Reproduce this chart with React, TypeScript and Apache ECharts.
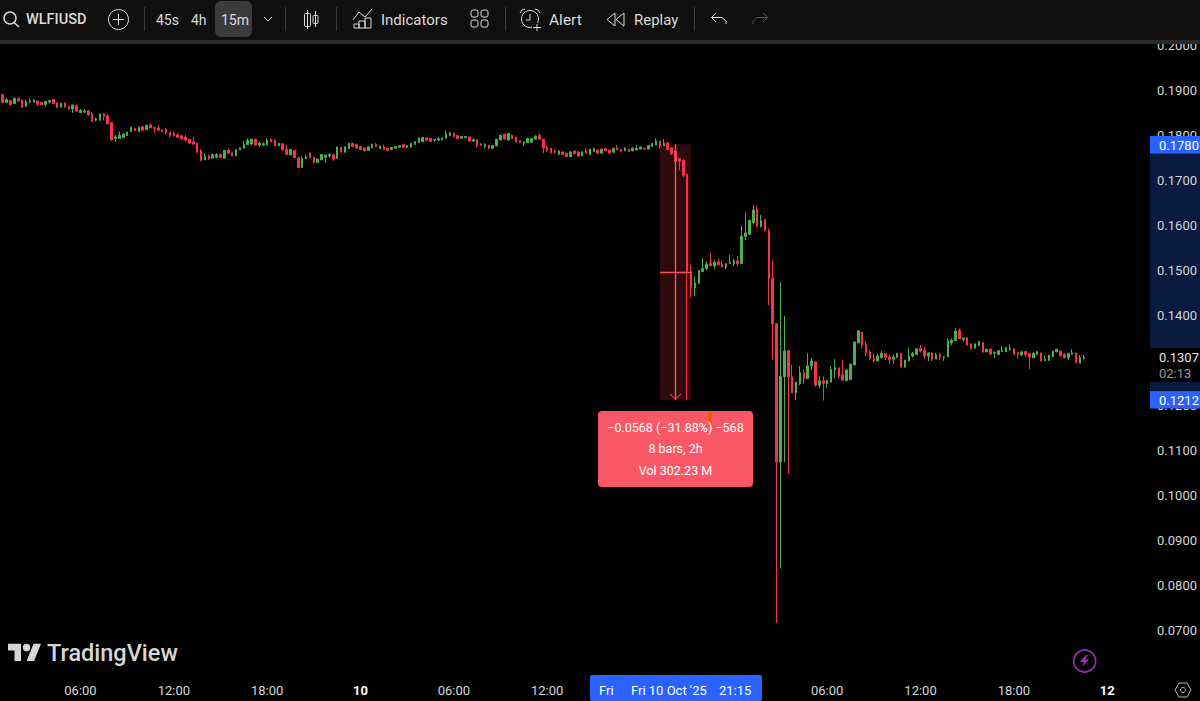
import React, { useEffect, useRef } from "react";
import * as echarts from "echarts";

// Prices are stored in ticks of 0.0001 (15-minute bars from Oct 9, 01:00)
const opens = [
  1890,1873,1877,1870,1882,1878,1864,1873,1873,1876,
  1873,1868,1874,1879,1872,1862,1872,1864,1858,1865,
  1850,1851,1854,1847,1833,1833,1847,1843,1828,1793,
  1793,1795,1799,1808,1815,1808,1819,1812,1823,1817,
  1816,1812,1813,1806,1804,1801,1799,1796,1791,1785,
  1782,1765,1745,1754,1749,1751,1757,1749,1767,1761,
  1754,1767,1771,1779,1780,1791,1778,1778,1778,1791,
  1788,1776,1781,1769,1756,1766,1750,1728,1747,1761,
  1751,1739,1745,1751,1754,1756,1748,1773,1762,1770,
  1782,1779,1775,1771,1766,1772,1780,1770,1774,1771,
  1768,1771,1773,1779,1773,1773,1779,1783,1785,1794,
  1793,1789,1789,1789,1793,1799,1805,1799,1793,1794,
  1796,1787,1790,1781,1775,1778,1771,1776,1789,1802,
  1789,1800,1796,1788,1782,1783,1784,1791,1799,1791,
  1772,1771,1765,1757,1763,1760,1752,1765,1763,1754,
  1765,1757,1764,1767,1760,1770,1767,1762,1771,1768,
  1765,1769,1765,1767,1769,1771,1769,1775,1778,1787,
  1777,1783,1772,1765,1748,1745,1713,1498,1461,1471,
  1497,1504,1515,1510,1519,1514,1507,1515,1515,1521,
  1515,1575,1580,1606,1634,1597,1613,1589,1482,1382,
  1075,1264,1322,1264,1228,1248,1273,1260,1288,1297,
  1245,1255,1248,1252,1279,1284,1268,1255,1258,1290,
  1339,1363,1336,1319,1305,1299,1307,1316,1308,1303,
  1306,1316,1285,1299,1310,1313,1327,1323,1310,1317,
  1303,1313,1306,1308,1339,1344,1367,1347,1351,1337,
  1327,1333,1340,1319,1325,1316,1313,1320,1319,1324,
  1327,1318,1312,1320,1316,1306,1313,1317,1300,1300,
  1308,1319,1321,1314,1306,1314,1317,1294,1305,
];
const closes = [
  1872,1879,1868,1882,1876,1862,1874,1876,1877,1869,
  1867,1875,1877,1870,1862,1871,1862,1858,1867,1853,
  1855,1853,1845,1830,1836,1847,1841,1825,1790,1796,
  1800,1802,1807,1817,1810,1818,1811,1822,1816,1815,
  1811,1808,1805,1799,1799,1795,1792,1789,1782,1780,
  1762,1743,1753,1747,1757,1757,1750,1766,1760,1754,
  1768,1772,1779,1788,1791,1778,1782,1781,1789,1785,
  1776,1782,1768,1757,1768,1750,1728,1748,1752,1750,
  1739,1747,1757,1756,1757,1747,1774,1762,1774,1782,
  1775,1771,1768,1765,1774,1780,1774,1776,1768,1766,
  1773,1775,1777,1773,1777,1782,1786,1794,1795,1789,
  1786,1791,1792,1794,1802,1805,1796,1792,1797,1797,
  1787,1790,1776,1777,1779,1771,1777,1791,1800,1791,
  1804,1792,1785,1783,1785,1793,1793,1797,1791,1771,
  1766,1761,1762,1765,1757,1752,1763,1759,1753,1763,
  1760,1769,1770,1760,1769,1765,1760,1771,1767,1764,
  1771,1763,1771,1771,1774,1769,1777,1782,1787,1776,
  1782,1768,1759,1742,1742,1711,1498,1461,1472,1500,
  1504,1514,1510,1518,1513,1507,1515,1518,1521,1515,
  1576,1583,1611,1634,1598,1611,1588,1481,1381,1075,
  1265,1321,1264,1228,1252,1273,1260,1288,1299,1245,
  1255,1249,1256,1280,1284,1265,1256,1279,1292,1341,
  1366,1334,1317,1305,1299,1310,1316,1307,1302,1308,
  1316,1285,1301,1310,1316,1326,1321,1310,1317,1302,
  1313,1307,1308,1344,1345,1365,1348,1350,1334,1327,
  1337,1342,1319,1325,1314,1318,1322,1323,1329,1327,
  1314,1313,1319,1313,1308,1316,1320,1299,1303,1312,
  1321,1325,1310,1306,1316,1317,1295,1306,1307,
];
const lows = [
  1872,1871,1865,1870,1874,1861,1864,1871,1873,1865,
  1867,1864,1870,1870,1860,1862,1861,1856,1849,1851,
  1850,1851,1842,1830,1830,1833,1833,1825,1787,1785,
  1793,1795,1799,1808,1810,1808,1811,1812,1816,1805,
  1811,1808,1802,1795,1797,1793,1790,1786,1781,1780,
  1760,1743,1745,1745,1749,1749,1750,1749,1758,1754,
  1754,1767,1771,1779,1780,1778,1774,1776,1778,1785,
  1776,1776,1765,1757,1756,1750,1728,1728,1747,1750,
  1737,1739,1745,1739,1751,1743,1748,1762,1762,1770,
  1775,1771,1768,1764,1766,1772,1774,1770,1768,1764,
  1768,1771,1773,1773,1770,1773,1779,1783,1785,1786,
  1786,1785,1787,1789,1793,1799,1796,1791,1793,1794,
  1785,1785,1772,1777,1771,1769,1768,1776,1789,1791,
  1789,1792,1785,1783,1776,1783,1784,1791,1791,1760,
  1763,1759,1759,1757,1757,1752,1752,1757,1753,1754,
  1760,1757,1762,1760,1760,1765,1760,1762,1767,1762,
  1765,1763,1765,1767,1769,1769,1769,1775,1778,1771,
  1777,1768,1756,1742,1722,1707,1212,1441,1442,1471,
  1497,1500,1510,1503,1510,1507,1503,1515,1510,1510,
  1515,1567,1580,1602,1596,1595,1586,1423,1301,717,
  838,1075,1049,1228,1212,1245,1248,1260,1279,1242,
  1239,1211,1239,1252,1260,1260,1256,1255,1258,1290,
  1339,1327,1310,1302,1296,1299,1303,1301,1292,1292,
  1306,1285,1285,1299,1307,1313,1318,1303,1299,1299,
  1303,1301,1299,1308,1334,1344,1348,1342,1334,1323,
  1327,1333,1317,1319,1311,1305,1313,1319,1319,1322,
  1312,1304,1310,1308,1281,1306,1313,1298,1299,1300,
  1308,1319,1310,1305,1301,1313,1295,1294,1302,
];
const highs = [
  1890,1883,1877,1882,1882,1878,1879,1882,1880,1876,
  1873,1875,1877,1879,1872,1871,1872,1864,1867,1868,
  1858,1858,1856,1852,1839,1847,1849,1847,1828,1800,
  1808,1805,1807,1819,1815,1818,1819,1822,1826,1817,
  1822,1812,1816,1806,1808,1804,1799,1801,1791,1796,
  1782,1769,1760,1757,1759,1760,1759,1766,1771,1761,
  1768,1772,1787,1793,1791,1791,1785,1784,1793,1793,
  1791,1782,1781,1779,1768,1766,1750,1753,1757,1761,
  1751,1747,1757,1756,1760,1759,1774,1773,1774,1782,
  1782,1782,1775,1771,1774,1780,1782,1776,1779,1771,
  1773,1775,1777,1782,1777,1782,1786,1794,1795,1794,
  1793,1791,1796,1794,1810,1808,1805,1799,1797,1797,
  1796,1793,1790,1781,1782,1778,1777,1791,1800,1802,
  1804,1800,1796,1788,1785,1793,1793,1800,1804,1791,
  1777,1771,1769,1765,1763,1760,1763,1765,1763,1763,
  1771,1769,1772,1767,1769,1772,1767,1771,1778,1768,
  1773,1769,1773,1778,1774,1771,1777,1782,1793,1787,
  1791,1783,1772,1766,1748,1746,1713,1513,1486,1500,
  1528,1520,1540,1524,1526,1520,1515,1534,1526,1532,
  1599,1628,1611,1645,1643,1623,1613,1593,1523,1382,
  1474,1399,1322,1290,1252,1288,1280,1316,1305,1297,
  1265,1265,1256,1288,1303,1284,1301,1279,1292,1341,
  1366,1363,1342,1323,1316,1316,1321,1316,1313,1314,
  1316,1316,1301,1329,1319,1326,1334,1330,1317,1317,
  1317,1317,1310,1349,1349,1371,1371,1350,1351,1337,
  1337,1344,1340,1325,1327,1320,1322,1332,1329,1336,
  1327,1318,1322,1322,1316,1319,1320,1317,1311,1312,
  1321,1325,1321,1316,1316,1325,1317,1312,1313,
];

const TICK = 0.0001;
const TOTAL_BARS = 295; // includes the empty slots to the right of the last bar
const xTickBars = [20, 44, 68, 92, 116, 140, 212, 236, 260, 284];
const hiddenPriceTicks = [0.06, 0.13];
const measureStartBar = 169;
const measureEndBar = 177;
const measureMidBar = 173;
const measureFrom = 0.178;
const measureTo = 0.1212;
const measureMid = 0.1496;

const pad = (n: number) => String(n).padStart(2, "0");
const categories = Array.from({ length: TOTAL_BARS }, (_, i) => {
  const minutes = 60 + i * 15;
  const day = 9 + Math.floor(minutes / 1440);
  const m = minutes % 1440;
  return `${day} ${pad(Math.floor(m / 60))}:${pad(m % 60)}`;
});
const candles = opens.map((o, i) => [o * TICK, closes[i] * TICK, lows[i] * TICK, highs[i] * TICK]);

const UI_FONT = "Roboto";
const fg = "#dbdbdb";

const txt = (text: string, x: number, y: number, size = 14, extra: any = {}, z = 101) => ({
  type: "text",
  z,
  silent: true,
  style: {
    text, x, y,
    fill: extra.fill || fg,
    font: `${extra.weight || 400} ${size}px ${UI_FONT}`,
    align: extra.align || "left",
    verticalAlign: "middle",
  },
});
const box = (x: number, y: number, width: number, height: number, fill: string, z = 100, r = 0) => ({
  type: "rect", z, silent: true, shape: { x, y, width, height, r }, style: { fill },
});
const line = (x1: number, y1: number, x2: number, y2: number, stroke = fg, lineWidth = 1, z = 101) => ({
  type: "line", z, silent: true, shape: { x1, y1, x2, y2 }, style: { stroke, lineWidth },
});
const poly = (points: number[][], stroke = fg, lineWidth = 1, z = 101) => ({
  type: "polyline", z, silent: true, shape: { points }, style: { stroke, lineWidth, fill: "none" },
});
const ring = (cx: number, cy: number, r: number, stroke = fg, lineWidth = 1, z = 101) => ({
  type: "circle", z, silent: true, shape: { cx, cy, r }, style: { stroke, lineWidth, fill: "none" },
});
const outline = (x: number, y: number, width: number, height: number, r = 0, stroke = fg) => ({
  type: "rect", z: 101, silent: true, shape: { x, y, width, height, r }, style: { stroke, lineWidth: 1, fill: "none" },
});

echarts.graphic.registerShape(
  "tvLogo",
  echarts.graphic.extendPath("M14 22H7V11H0V4h14v18zM28 22h-8l7.5-18h8L28 22zM20 4a4 4 0 1 1 0 8a4 4 0 1 1 0-8z", {})
);
echarts.graphic.registerShape(
  "bolt",
  echarts.graphic.extendPath("M6 0L0 7H4L2 12L9 4.5H5L8 0z", {})
);

const toolbar = [
  box(0, 0, 1200, 40, "#0f0f0f"),
  box(0, 40, 1200, 4, "#2a2a2a"),
  ring(10, 18, 6, fg, 1.4),
  line(14, 22.5, 19, 27, fg, 1.6),
  txt("WLFIUSD", 26, 19.5, 14.5, { weight: 500 }),
  ring(118.5, 19.5, 10),
  line(113, 19.5, 124, 19.5),
  line(118.5, 14, 118.5, 25),
  line(144.5, 7, 144.5, 31, "#3a3a3a"),
  txt("45s", 156, 19.5, 14),
  txt("4h", 191, 19.5, 14),
  box(215, 1, 37, 36, "#3b3b3b", 100, 6),
  txt("15m", 221, 19.5, 14),
  poly([[264, 17], [268, 21], [272, 17]]),
  line(285.5, 7, 285.5, 31, "#3a3a3a"),
  line(307.5, 10, 307.5, 29),
  outline(304.5, 13.5, 6, 13, 1),
  line(315.5, 11, 315.5, 27),
  outline(313, 15.5, 5, 8, 1),
  line(336.5, 7, 336.5, 31, "#3a3a3a"),
  poly([[353, 20], [359, 12], [365, 17], [372, 9]]),
  outline(354, 24, 5, 4),
  outline(359, 21, 6, 7),
  outline(365, 18, 6, 10),
  txt("Indicators", 381, 19.5, 15),
  outline(471, 10, 7, 7, 2),
  outline(481, 10, 7, 7, 2),
  outline(471, 20, 7, 7, 2),
  outline(481, 20, 7, 7, 2),
  line(505.5, 7, 505.5, 31, "#3a3a3a"),
  ring(530, 19, 8.5),
  poly([[530, 14], [530, 20], [526, 20]]),
  poly([[520, 13], [522, 10], [525, 9]]),
  poly([[540, 13], [538, 10], [535, 9]]),
  box(532, 23, 10, 9, "#0f0f0f", 101),
  { ...line(537, 24, 537, 31), z: 102 },
  { ...line(533, 27.5, 541, 27.5), z: 102 },
  txt("Alert", 549, 19.5, 15.5),
  poly([[615, 13], [607, 19.5], [615, 26], [615, 13]]),
  poly([[624, 13], [616, 19.5], [624, 26], [624, 13]]),
  txt("Replay", 634, 19.5, 15),
  line(694.5, 7, 694.5, 31, "#3a3a3a"),
  poly([[716, 13], [711.5, 17.5], [716, 22]]),
  poly([[711.5, 17.5], [722, 17.5], [726, 21], [726, 24]]),
  poly([[763, 13], [767.5, 17.5], [763, 22]], "#555555"),
  poly([[767.5, 17.5], [757, 17.5], [753, 21], [753, 24]], "#555555"),
];

const priceScale = [
  box(1150, 153, 50, 195, "#0a1a40", 1),
  box(1150, 382, 50, 9, "#0a1a40", 1),
  box(1150, 348, 50, 34, "#000000", 100),
  txt("0.1307", 1159, 357, 13, { fill: "#e6e6e6" }),
  txt("02:13", 1159, 373, 13, { fill: "#9a9a9a" }),
  box(1150, 136, 50, 17.5, "#2962ff"),
  txt("0.1780", 1159, 145, 13, { fill: "#ffffff" }),
  box(1150, 391, 50, 17.5, "#2962ff"),
  txt("0.1212", 1159, 400, 13, { fill: "#ffffff" }),
];

const measureBox = [
  poly([[670, 394], [675.5, 399], [681, 394]], "#f7525f", 1, 50),
  box(598, 411, 155, 76, "#f95766", 60, 4),
  box(708, 412, 4, 11, "#f05a00", 61),
  txt("\u22120.0568 (\u221231.88%) \u2212568", 675.5, 427, 12.5, { fill: "#ffffff", align: "center" }, 62),
  txt("8 bars, 2h", 675.5, 448.5, 12.5, { fill: "#ffffff", align: "center" }, 62),
  txt("Vol 302.23 M", 675.5, 470, 12.5, { fill: "#ffffff", align: "center" }, 62),
];

const footer = [
  { type: "tvLogo", z: 100, silent: true, x: 8, y: 640, scaleX: 0.93, scaleY: 0.95, style: { fill: "#d6d6d6" } },
  txt("TradingView", 47, 653, 23.5, { fill: "#d6d6d6", weight: 500 }),
  box(590, 675, 172, 26, "#2962ff", 100, 2),
  txt("Fri", 599, 690, 13, { fill: "#ffffff" }),
  box(619, 675, 2, 26, "#2962ff", 100),
  txt("Fri 10 Oct '25", 631, 690, 13, { fill: "#ffffff" }),
  txt("21:15", 719, 690, 13, { fill: "#ffffff" }),
  ring(1084.7, 661, 11, "#9c33b5", 1.6),
  { type: "bolt", z: 101, silent: true, x: 1080, y: 655, scaleX: 1, scaleY: 1, style: { fill: "#9c33b5" } },
  {
    type: "polygon", z: 101, silent: true,
    shape: { points: [[1175, 690], [1179, 683], [1187, 683], [1191, 690], [1187, 697], [1179, 697]] },
    style: { stroke: "#b2b5be", lineWidth: 1, fill: "none" },
  },
  ring(1183, 690, 2.5, "#b2b5be"),
];

export default function App() {
  const ref = useRef<HTMLDivElement>(null);
  useEffect(() => {
    document.body.style.margin = "0";
    document.body.style.background = "#000";
    const chart = echarts.init(ref.current!, undefined, { renderer: "svg" });
    chart.setOption({
      animation: false,
      backgroundColor: "#000000",
      grid: { left: 0.75, top: 45, width: 1148.1, height: 631, containLabel: false },
      xAxis: {
        type: "category",
        data: categories,
        boundaryGap: true,
        z: 5,
        axisLine: { show: false },
        axisTick: { show: false },
        splitLine: { show: false },
        axisLabel: {
          interval: (index: number) => xTickBars.includes(index),
          margin: 8,
          fontFamily: UI_FONT,
          fontSize: 13,
          color: "#d6d6d6",
          hideOverlap: false,
          formatter: (v: string) => {
            const [day, time] = v.split(" ");
            return time === "00:00" ? `{day|${day}}` : time;
          },
          rich: { day: { fontFamily: UI_FONT, fontSize: 13, fontWeight: 700, color: "#ffffff" } },
        },
      },
      yAxis: {
        type: "value",
        position: "right",
        min: 0.06,
        max: 0.2,
        interval: 0.01,
        scale: true,
        z: 5,
        axisLine: { show: false },
        axisTick: { show: false },
        splitLine: { show: false },
        axisLabel: {
          margin: 9,
          fontFamily: UI_FONT,
          fontSize: 13,
          color: "#d6d6d6",
          showMinLabel: true,
          showMaxLabel: true,
          formatter: (v: number) =>
            hiddenPriceTicks.some((h) => Math.abs(h - v) < 1e-6) ? "" : v.toFixed(4),
        },
      },
      series: [
        {
          type: "candlestick",
          data: candles,
          barWidth: 2,
          z: 2,
          itemStyle: {
            color: "#4caf50",
            color0: "#f5334a",
            borderColor: "#4caf50",
            borderColor0: "#f5334a",
            borderWidth: 1,
          },
          markArea: {
            silent: true,
            itemStyle: { color: "rgba(242,54,69,0.2)" },
            data: [
              [
                { xAxis: categories[measureStartBar], yAxis: measureFrom },
                { xAxis: categories[measureEndBar], yAxis: measureTo },
              ],
            ],
          },
          markLine: {
            silent: true,
            symbol: ["none", "none"],
            label: { show: false },
            lineStyle: { color: "#f7525f", width: 1.4, type: "solid" },
            data: [
              [
                { xAxis: categories[measureMidBar], yAxis: measureFrom },
                { xAxis: categories[measureMidBar], yAxis: measureTo },
              ],
              [
                { xAxis: categories[measureStartBar], yAxis: measureMid },
                { xAxis: categories[measureEndBar], yAxis: measureMid },
              ],
            ],
          },
        },
      ],
      graphic: { elements: [...priceScale, ...measureBox, ...footer, ...toolbar] },
    });
    return () => chart.dispose();
  }, []);
  return (
    <div
      ref={ref}
      style={{ position: "fixed", left: 0, top: 0, width: 1200, height: 701, background: "#000" }}
    />
  );
}
